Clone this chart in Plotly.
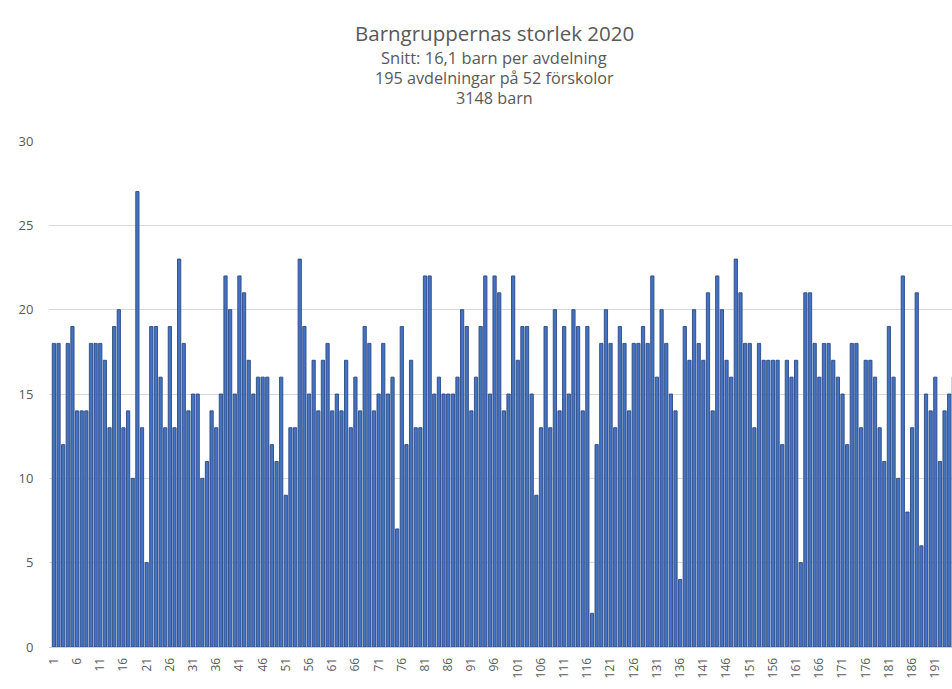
import plotly.graph_objects as go

# Avdelning (department) numbers 1..195
avdelning = list(range(1, 196))

# Barn per avdelning (children per group)
barn = [
    18, 18, 12, 18, 19, 14, 14, 14, 18, 18, 18, 17, 13, 19, 20, 13, 14, 10, 27, 13,
    5, 19, 19, 16, 13, 19, 13, 23, 18, 14, 15, 15, 10, 11, 14, 13, 15, 22, 20, 15,
    22, 21, 17, 15, 16, 16, 16, 12, 11, 16, 9, 13, 13, 23, 19, 15, 17, 14, 17, 18,
    14, 15, 14, 17, 13, 16, 14, 19, 18, 14, 15, 18, 15, 16, 7, 19, 12, 17, 13, 13,
    22, 22, 15, 16, 15, 15, 15, 16, 20, 19, 14, 16, 19, 22, 15, 22, 21, 14, 15, 22,
    17, 19, 19, 15, 9, 13, 19, 13, 20, 14, 19, 15, 20, 19, 14, 19, 2, 12, 18, 20,
    18, 13, 19, 18, 14, 18, 18, 19, 18, 22, 16, 20, 18, 15, 14, 4, 19, 17, 20, 18,
    17, 21, 14, 22, 20, 17, 16, 23, 21, 18, 18, 13, 18, 17, 17, 17, 17, 12, 17, 16,
    17, 5, 21, 21, 18, 16, 18, 18, 17, 16, 15, 12, 18, 18, 13, 17, 17, 16, 13, 11,
    19, 16, 10, 22, 8, 13, 21, 6, 15, 14, 16, 11, 14, 15, 16,
]

# Axis ticks
x_tick_vals = list(range(1, 196, 5))
x_tick_text = [str(v) for v in x_tick_vals]
y_tick_vals = [0, 5, 10, 15, 20, 25, 30]

title_lines = [
    "Barngruppernas storlek 2020",
    "Snitt: 16,1 barn per avdelning",
    "195 avdelningar på 52 förskolor",
    "3148 barn",
]

FONT = "Open Sans, Liberation Sans, sans-serif"
GRAY = "#595959"

fig = go.Figure()
fig.add_trace(go.Bar(
    x=avdelning,
    y=barn,
    marker=dict(color="#4472C4", line=dict(color="#2B4A80", width=0.9)),
    hoverinfo="x+y",
))

W, H = 952, 689
ml, mr, mt = 49, 0, 141
mb = H - 647
plot_h = H - mt - mb
plot_w = W - ml - mr

def py(y_px):
    return (H - mb - y_px) / plot_h

def px(x_px):
    return (x_px - ml) / plot_w

annotations = []
title_y = [33, 57, 78, 98]
title_size = [20.5, 16.5, 16.2, 16.2]
for txt, ypix, sz in zip(title_lines, title_y, title_size):
    annotations.append(dict(
        text=txt, xref="paper", yref="paper", x=px(494), y=py(ypix),
        xanchor="center", yanchor="middle", showarrow=False,
        font=dict(family=FONT, size=sz, color=GRAY),
    ))

fig.update_layout(
    width=W, height=H,
    margin=dict(l=ml, r=mr, t=mt, b=mb, autoexpand=False),
    paper_bgcolor="white", plot_bgcolor="white",
    bargap=0.3,
    showlegend=False,
    font=dict(family=FONT, color=GRAY),
    annotations=annotations,
)
# The reference picture is cropped at the right edge (the last group is cut off).
fig.update_xaxes(
    range=[-0.05, 194.6],
    tickmode="array", tickvals=x_tick_vals, ticktext=x_tick_text,
    tickangle=-90, tickfont=dict(family=FONT, size=12, color=GRAY),
    showgrid=False, zeroline=False,
    showline=True, linecolor="#d0d0d0", linewidth=1,
    ticks="outside", ticklen=5, tickcolor="rgba(0,0,0,0)",
)
fig.update_yaxes(
    range=[0, 30],
    tickmode="array", tickvals=y_tick_vals,
    tickfont=dict(family=FONT, size=13, color=GRAY),
    showgrid=True, gridcolor="#d9d9d9", gridwidth=1,
    zeroline=False, showline=False,
    ticks="outside", ticklen=12, tickcolor="rgba(0,0,0,0)",
)

# Remove the default body margin so the figure fills the window exactly.
post = "document.body.style.margin='0px';document.body.style.overflow='hidden';"
fig.write_html("out.html", post_script=post, config={"displayModeBar": False})
